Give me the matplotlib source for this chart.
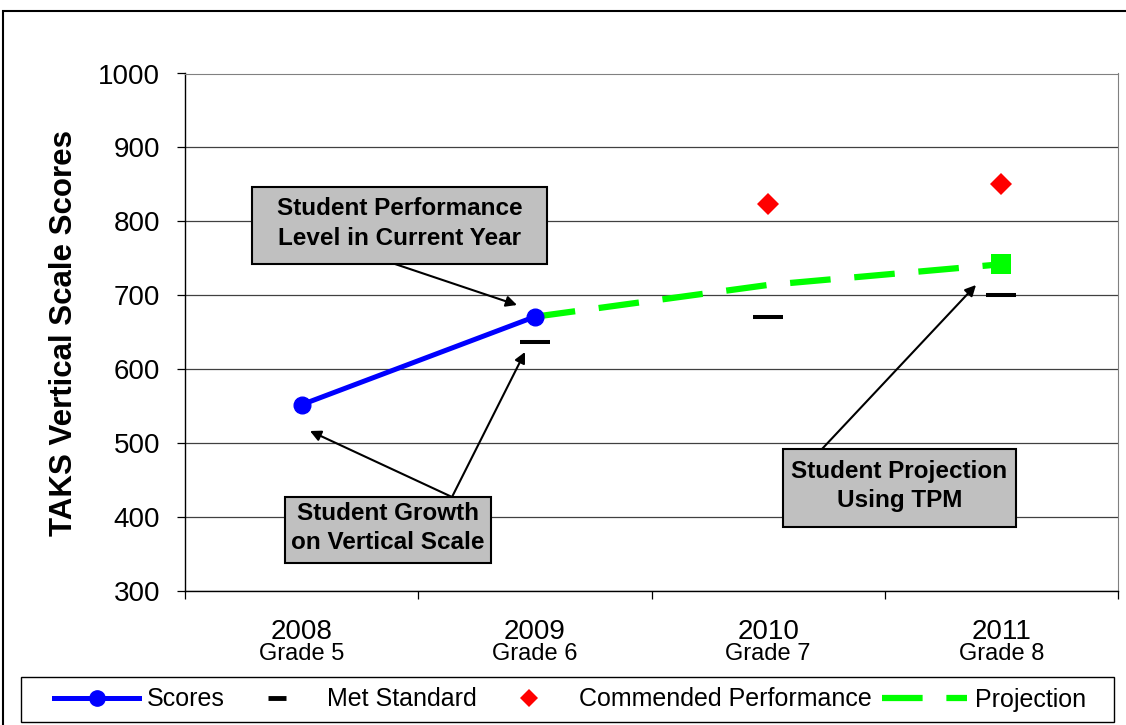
import numpy as np
import matplotlib
matplotlib.use('Agg')
import matplotlib.pyplot as plt
from matplotlib.patches import Rectangle, FancyArrowPatch
from matplotlib.lines import Line2D

plt.rcParams['font.family'] = ['Liberation Sans', 'DejaVu Sans']

years = ['2008', '2009', '2010', '2011']
grades = ['Grade 5', 'Grade 6', 'Grade 7', 'Grade 8']

# scale scores by year index (0 = 2008)
score_idx = [0, 1]
scores = [552, 671]
met_idx = [1, 2, 3]
met_standard = [637, 671, 700]
commended_idx = [2, 3]
commended = [823, 851]
proj_idx = [1, 2, 3]
projection = [671, 714, 742]

W, H = 1126, 725


def fx(x):
    return x / W


def fy(y):
    return 1 - y / H


fig = plt.figure(figsize=(W / 100, H / 100), dpi=100)
ax = fig.add_axes([fx(185), fy(591), fx(1118) - fx(185), fy(73.5) - fy(591)])

ax.set_xlim(-0.5, 3.5)
ax.set_ylim(300, 1000)
ax.set_yticks(range(300, 1001, 100))
ax.set_xticks(np.arange(-0.5, 4, 1))
ax.set_xticklabels([])
ax.yaxis.grid(True, color='#404040', lw=0.9)
ax.set_axisbelow(True)
ax.tick_params(axis='x', length=5.5, width=0.9, direction='out')
ax.tick_params(axis='y', length=6, width=0.9, direction='out', pad=12, labelsize=20)
for side in ['top', 'right']:
    ax.spines[side].set_color('#808080')
for side in ['left', 'bottom']:
    ax.spines[side].set_linewidth(1.0)

# two-line category labels
for i, (yr, gr) in enumerate(zip(years, grades)):
    ax.text(i, -0.0928, yr, transform=ax.get_xaxis_transform(),
            ha='center', va='baseline', fontsize=20)
    ax.text(i, -0.1333, gr, transform=ax.get_xaxis_transform(),
            ha='center', va='baseline', fontsize=17)

ax.plot(proj_idx, projection, color='#00FF00', lw=4.5, dashes=(6.5, 3.8),
        solid_capstyle='butt', dash_capstyle='butt', zorder=4)
ax.plot(proj_idx[-1:], projection[-1:], ls='none', marker='s', ms=14.4,
        color='#00FF00', mew=0, zorder=6)
ax.plot(score_idx, scores, color='#0000FF', lw=3.6, marker='o', ms=12, zorder=5)
ax.plot(met_idx, met_standard, ls='none', marker='_', ms=21.5, mew=2.9,
        color='black', zorder=5)
ax.plot(commended_idx, commended, ls='none', marker='D', ms=10.7, mew=0,
        color='red', zorder=5)

fig.text(fx(64), fy(333), 'TAKS Vertical Scale Scores', rotation=90,
         ha='center', va='center', fontsize=22.5, fontweight='bold')

# callout boxes with arrows
callouts = [
    ((252, 187, 547, 264), 'Student Performance\nLevel in Current Year',
     [((392, 263), (517, 305))]),
    ((285, 497, 491, 563), 'Student Growth\non Vertical Scale',
     [((452, 497), (310, 431)), ((452, 497), (525, 352))]),
    ((783, 449, 1016, 527), 'Student Projection\nUsing TPM',
     [((822, 449), (976, 285))]),
]
for (x0, y0, x1, y1), label, arrows in callouts:
    fig.add_artist(Rectangle((fx(x0), fy(y1)), fx(x1) - fx(x0), fy(y0) - fy(y1),
                             transform=fig.transFigure, facecolor='#C0C0C0',
                             edgecolor='black', lw=1.5, zorder=3))
    fig.text(fx((x0 + x1) / 2), fy((y0 + y1) / 2 - 2), label, ha='center', va='center',
             fontsize=17.5, fontweight='bold', linespacing=1.35, zorder=4)
    for (ax0, ay0), (ax1, ay1) in arrows:
        fig.add_artist(FancyArrowPatch((fx(ax0), fy(ay0)), (fx(ax1), fy(ay1)),
                                       transform=fig.transFigure, arrowstyle='-|>',
                                       mutation_scale=16, lw=1.5, color='black',
                                       shrinkA=0, shrinkB=0, zorder=2))

# outer chart border
fig.add_artist(Rectangle((fx(3), fy(760)), fx(1160) - fx(3), fy(11) - fy(760),
                         transform=fig.transFigure, fill=False,
                         edgecolor='black', lw=1.5))

# legend frame drawn separately so the entries keep their natural spacing
fig.add_artist(Rectangle((fx(21), fy(722)), fx(1114) - fx(21), fy(677) - fy(722),
                         transform=fig.transFigure, facecolor='white',
                         edgecolor='black', lw=1.0, zorder=5))
handles = [
    Line2D([], [], color='#0000FF', lw=3.6, marker='o', ms=11),
    Line2D([], [], ls='none', marker='_', ms=13, mew=3.5, color='black'),
    Line2D([], [], ls='none', marker='D', ms=9.5, mew=0, color='red'),
    Line2D([], [], color='#00FF00', lw=4.5, dashes=(6.5, 3.8)),
]
labels = ['Scores', 'Met Standard', 'Commended Performance', 'Projection']
leg = fig.legend(handles, labels, ncol=4, loc='center',
                 bbox_to_anchor=(fx(570), fy(699.5)), frameon=False,
                 fontsize=18, borderpad=0, handlelength=3.4, handletextpad=0.3,
                 columnspacing=0.4, borderaxespad=0)
leg.set_zorder(6)

fig.savefig('out.png', dpi=100)
